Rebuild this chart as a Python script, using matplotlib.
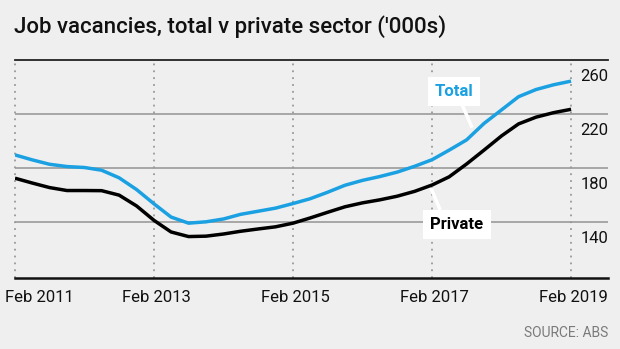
import pandas as pd
import matplotlib.pyplot as plt
import matplotlib.dates as mdates
import matplotlib.transforms as mtransforms

# Job vacancies ('000s), quarterly, Feb 2011 - Feb 2019
dates = pd.date_range('2011-02-01', periods=33, freq='3MS')

total = [189.9, 186.3, 183.0, 181.3, 180.6, 178.6, 173.0, 164.3, 153.7,
         144.0, 139.5, 140.5, 142.6, 146.0, 148.3, 150.6, 154.0,
         157.5, 162.3, 167.5, 171.1, 173.9, 177.2, 181.5, 186.4,
         193.4, 201.0, 213.2, 223.2, 232.9, 238.2, 241.7, 244.4]

private = [172.7, 169.2, 165.8, 163.6, 163.6, 163.5, 160.2, 152.2, 141.5,
           133.0, 129.6, 129.9, 131.5, 133.5, 135.2, 136.8, 139.5,
           143.3, 147.5, 151.6, 154.5, 156.7, 159.4, 163.0, 167.7,
           173.7, 183.2, 193.5, 204.0, 212.8, 217.8, 221.1, 223.6]

tick_dates = pd.to_datetime(['2011-02-01', '2013-02-01', '2015-02-01',
                             '2017-02-01', '2019-02-01'])
tick_labels = ['Feb 2011', 'Feb 2013', 'Feb 2015', 'Feb 2017', 'Feb 2019']
y_ticks = [140, 180, 220, 260]

bg = '#efefef'
blue = '#1ba1e2'
plt.rcParams['font.family'] = ['Roboto', 'DejaVu Sans']

fig = plt.figure(figsize=(6.2, 3.49), dpi=100, facecolor=bg)
ax = fig.add_axes([15/620, 1 - 278/349, (608 - 15)/620, (278 - 60)/349])
ax.set_facecolor(bg)

ax.set_xlim(mdates.date2num(pd.Timestamp('2011-02-01')),
            mdates.date2num(pd.Timestamp('2019-08-14')))
ax.set_ylim(99, 260)

# horizontal grid
for v in y_ticks[:-1]:
    ax.axhline(v, color='#9a9a9a', lw=1.2, zorder=1)

# vertical dotted lines
for d in tick_dates:
    ax.axvline(mdates.date2num(d), color='#999999', lw=1.3,
               linestyle=(0, (1, 2.8)), zorder=1, clip_on=False)

for s in ['left', 'right']:
    ax.spines[s].set_visible(False)
ax.spines['top'].set_color('#222222')
ax.spines['top'].set_linewidth(1.3)
ax.spines['bottom'].set_color('#111111')
ax.spines['bottom'].set_linewidth(1.8)
ax.set_xticks([])
ax.set_yticks([])

ax.plot(mdates.date2num(dates), total, color=blue, lw=2.5, zorder=4,
        solid_capstyle='butt', solid_joinstyle='round')
ax.plot(mdates.date2num(dates), private, color='black', lw=2.5, zorder=4,
        solid_capstyle='butt', solid_joinstyle='round')

# x labels
xtr = mtransforms.blended_transform_factory(ax.transData, ax.transAxes)
for i, (d, lab) in enumerate(zip(tick_dates, tick_labels)):
    dx = -10 if i == 0 else 2
    ha = 'left' if i == 0 else 'center'
    tr = mtransforms.offset_copy(xtr, fig=fig, x=dx, y=-24.5, units='dots')
    ax.text(mdates.date2num(d), 0, lab, transform=tr, ha=ha, va='baseline',
            fontsize=12, color='#111111')

# y labels, right side below gridlines
ytr = mtransforms.blended_transform_factory(ax.transAxes, ax.transData)
ytr = mtransforms.offset_copy(ytr, fig=fig, x=0, y=-21, units='dots')
for v in y_ticks:
    ax.text(1.0, v, str(v), transform=ytr, ha='right', va='baseline',
            fontsize=12, color='#111111')

# series labels with pointers
d0 = pd.Timestamp('2011-02-01')
def mdate(months):
    return mdates.date2num(d0 + pd.Timedelta(days=months * 30.44))

ax.plot([mdate(77.2), mdate(78.9)], [226.8, 210.0], color='white', lw=2.5,
        zorder=3, solid_capstyle='butt')
ax.text(mdate(75.8), 236.4, 'Total', color=blue, fontsize=12,
        fontweight='bold', ha='center', va='center', zorder=5,
        bbox=dict(boxstyle='square,pad=0.42', fc='white', ec='none'))

ax.plot([mdate(71.8), mdate(73.4)], [165.5, 149.3], color='white', lw=2.5,
        zorder=3, solid_capstyle='butt')
ax.text(mdate(76.3), 138.2, 'Private', color='black', fontsize=12,
        fontweight='bold', ha='center', va='center', zorder=5,
        bbox=dict(boxstyle='square,pad=0.42', fc='white', ec='none'))

fig.text(14/620, 1 - 33/349, "Job vacancies, total v private sector ('000s)",
         fontsize=16, fontweight='medium', color='#111111',
         ha='left', va='baseline')
fig.text(608/620, 1 - 337/349, 'SOURCE: ABS', fontsize=10, color='#7a7a7a',
         ha='right', va='baseline')

fig.savefig('out.png', dpi=100, facecolor=bg)
